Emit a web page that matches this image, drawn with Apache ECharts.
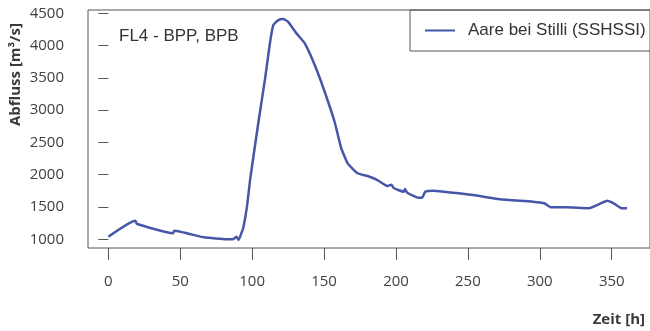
<!DOCTYPE html>
<html>
<head>
<meta charset="utf-8">
<script src="https://cdn.jsdelivr.net/npm/echarts@6/dist/echarts.min.js"></script>
<style>
html,body{margin:0;padding:0;background:#fff;}
#chart{width:650px;height:331px;}
</style>
</head>
<body>
<div id="chart"></div>
<script>
var timeHours = [0, 18.7, 20, 45, 45.8, 66.5, 82.6, 87, 89, 90.6, 92.9, 94, 96.4, 98.7, 104.4, 109, 112.5, 114.7, 118.2, 121.6, 125, 130.8, 136.6, 143.5, 150.4, 157.3, 161.8, 166.4, 173.3, 180.2, 187.1, 194, 196.8, 198.6, 205.5, 206.2, 207.8, 215.8, 218.1, 220.4, 226.2, 240, 253.8, 272.1, 295.1, 303.1, 307.7, 318, 334.1, 341, 346.8, 351.4, 357.1, 360.6];
var discharge = [1040, 1288, 1237, 1093, 1133, 1031, 1000, 1005, 1040, 990, 1118, 1195, 1505, 1944, 2820, 3492, 4059, 4317, 4395, 4410, 4368, 4189, 4034, 3698, 3285, 2820, 2420, 2176, 2022, 1980, 1918, 1825, 1845, 1790, 1737, 1779, 1721, 1644, 1644, 1737, 1752, 1721, 1686, 1619, 1582, 1557, 1495, 1495, 1480, 1542, 1597, 1557, 1480, 1480];
var xTicks = [0, 50, 100, 150, 200, 250, 300, 350];
var yTicks = [1000, 1500, 2000, 2500, 3000, 3500, 4000, 4500];
var seriesName = 'Aare bei Stilli (SSHSSI)';
var panelTitle = 'FL4 - BPP, BPB';
var xName = 'Zeit [h]';
var yName = 'Abfluss [m\u00b3/s]';

var pts = timeHours.map(function (t, i) { return [t, discharge[i]]; });
var chart = echarts.init(document.getElementById('chart'));
var labelFont = {color: '#404040', fontSize: 15, fontFamily: 'Open Sans', formatter: function (v) { return String(v); }};
chart.setOption({
  animation: false,
  backgroundColor: '#fff',
  title: {
    text: panelTitle, left: 114, top: 23,
    textStyle: {fontFamily: 'Liberation Sans', fontSize: 17, fontWeight: 'normal', color: '#333'}
  },
  legend: {
    data: [seriesName], left: 410, top: 10,
    padding: [12, 30, 12, 15],
    borderColor: '#555', borderWidth: 1, borderRadius: 0,
    itemWidth: 30, itemHeight: 14,
    icon: 'path://M0,6L30,6L30,8L0,8Z',
    textStyle: {fontFamily: 'Liberation Sans', fontSize: 17, color: '#333', padding: [0, 0, 0, 8]}
  },
  grid: {left: 88, top: 10, right: -5, bottom: 83, show: true, borderColor: '#555', borderWidth: 1},
  xAxis: {
    type: 'value', min: -14.13, max: 376.6,
    axisLine: {show: false},
    axisTick: {show: true, customValues: xTicks, length: 12, lineStyle: {color: '#555'}},
    axisLabel: Object.assign({customValues: xTicks, margin: 26}, labelFont),
    splitLine: {show: false}
  },
  yAxis: {
    type: 'value', min: 865, max: 4551,
    axisLine: {show: false},
    axisTick: {show: true, customValues: yTicks, length: 10, lineStyle: {color: '#555'}},
    axisLabel: Object.assign({customValues: yTicks, margin: 24}, labelFont),
    splitLine: {show: false}
  },
  graphic: [
    {type: 'text', right: 5, top: 312, style: {text: xName, font: 'bold 15px "Open Sans"', fill: '#3a3a3a'}},
    {type: 'text', x: 8, y: 126, rotation: Math.PI / 2, style: {text: yName, font: 'bold 15px "Open Sans"', fill: '#3a3a3a'}}
  ],
  series: [{
    name: seriesName, type: 'line', data: pts, showSymbol: false, symbol: 'none', smooth: 0.15,
    lineStyle: {color: '#4656a8', width: 2.5},
    itemStyle: {color: '#4656a8'}
  }]
});
</script>
</body>
</html>
